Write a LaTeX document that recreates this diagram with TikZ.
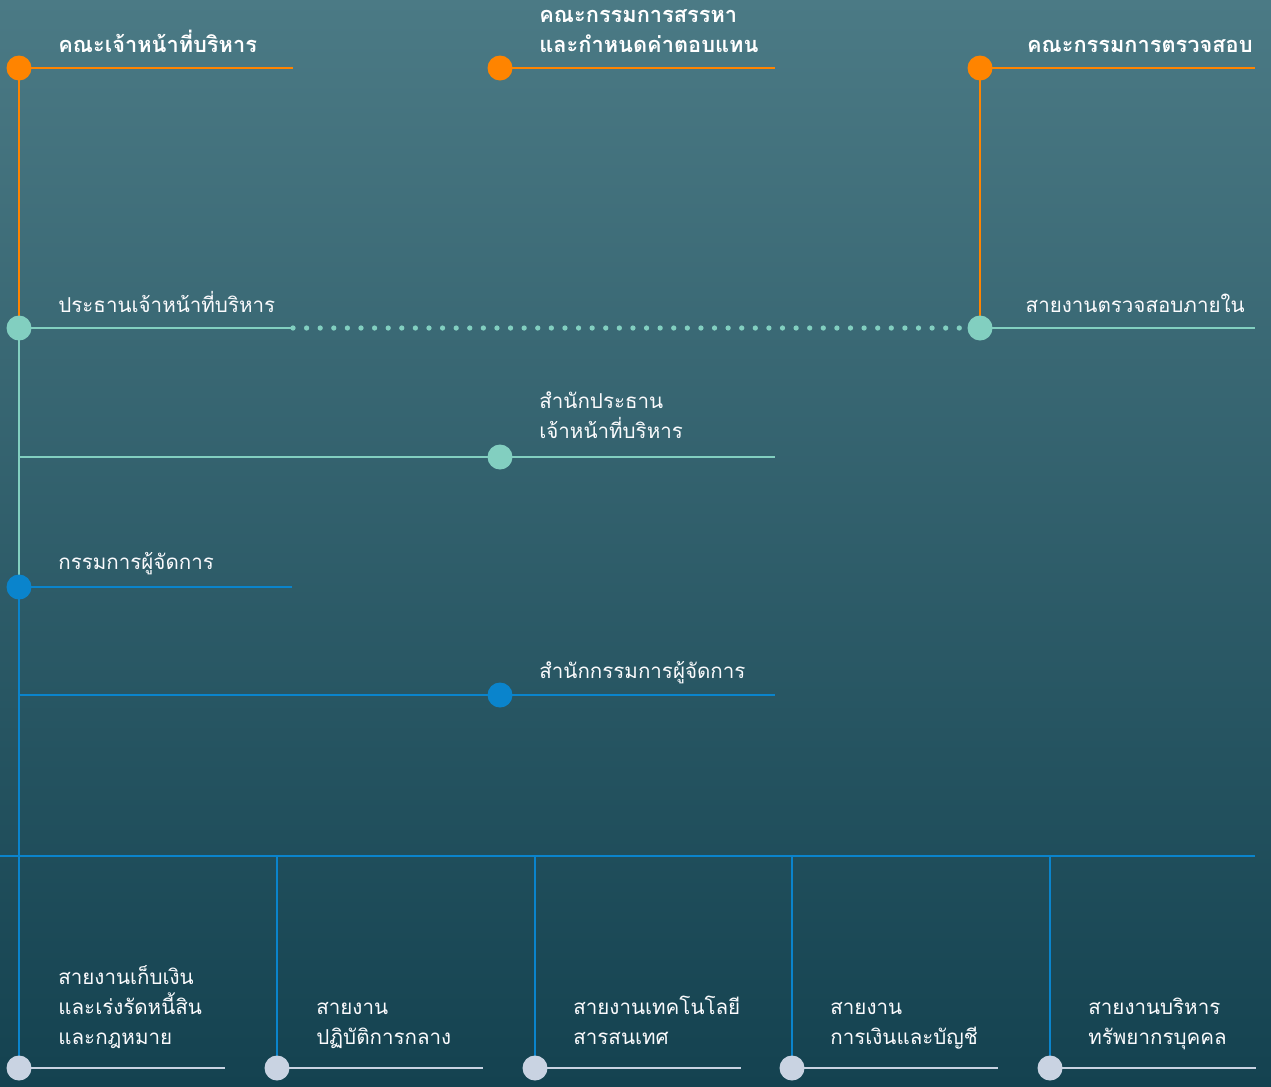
\documentclass[tikz,border=0pt]{standalone}
\usepackage{fontspec}
\setmainfont{Loma}[Script=Thai]
\usetikzlibrary{calc}
\definecolor{bgTop}{HTML}{4B7A85}
\definecolor{bgBottom}{HTML}{144250}
\definecolor{orgOrange}{HTML}{FF8400}
\definecolor{orgMint}{HTML}{82CFC0}
\definecolor{orgBlue}{HTML}{0A84CC}
\definecolor{orgGray}{HTML}{C9D3E2}
\tikzstyle{orgdot}=[circle, inner sep=0pt, minimum size=0.5cm]
\tikzstyle{orgline}=[line width=1.6pt]
\tikzstyle{title}=[anchor=base west, inner sep=0pt, text=white, font=\fontsize{12.4}{17}\selectfont\bfseries, align=left]
\tikzstyle{unit}=[anchor=base west, inner sep=0pt, text=white!92!orgGray, font=\fontsize{11.7}{17}\selectfont, align=left]

\begin{document}
\begin{tikzpicture}[x=0.02cm, y=-0.02cm]
	% Background
	\useasboundingbox (0,0) rectangle (1271,1086);
	\shade[top color=bgTop, bottom color=bgBottom] (0,0) rectangle (1271,1086);

	% Points of the chart
	\coordinate (exec) at (19,68);
	\coordinate (nomin) at (500,68);
	\coordinate (audit) at (980,68);
	\coordinate (ceo) at (19,328);
	\coordinate (intaudit) at (980,328);
	\coordinate (ceoOffice) at (500,457);
	\coordinate (md) at (19,587);
	\coordinate (mdOffice) at (500,695);
	\coordinate (busLeft) at (0,856);
	\coordinate (busRight) at (1255,856);
	\coordinate (ceoBranch) at (19,457);
	\coordinate (mdBranch) at (19,695);
	\coordinate (dotStart) at (293,328);
	\coordinate (dotEnd) at (968,328);
	\foreach \x/\n in {19/1, 277/2, 535/3, 792/4, 1050/5}{
		\coordinate (bus\n) at (\x,856);
		\coordinate (div\n) at (\x,1068);
		\coordinate (divEnd\n) at (\x+206,1068);
	}

	% Board level
	\draw[orgline, orgOrange] (exec) -- ++(274,0) coordinate (execEnd);
	\draw[orgline, orgOrange] (nomin) -- ++(275,0) coordinate (nominEnd);
	\draw[orgline, orgOrange] (audit) -- ++(275,0) coordinate (auditEnd);
	\draw[orgline, orgOrange] (exec) -- (ceo);
	\draw[orgline, orgOrange] (audit) -- (intaudit);

	% Executive level
	\draw[orgline, orgMint] (ceo) -- (dotStart);
	\draw[orgMint, line width=3pt, line cap=round, dash pattern=on 0pt off 0.272cm] (dotStart) -- (dotEnd);
	\draw[orgline, orgMint] (intaudit) -- ++(275,0) coordinate (intauditEnd);
	\draw[orgline, orgMint] (ceo) -- (md);
	\draw[orgline, orgMint] (ceoBranch) -- (ceoOffice) -- ++(275,0) coordinate (ceoOfficeEnd);
	\draw[orgline, orgBlue] (md) -- ++(273,0) coordinate (mdEnd);
	\draw[orgline, orgBlue] (md) -- (div1);
	\draw[orgline, orgBlue] (mdBranch) -- (mdOffice) -- ++(275,0) coordinate (mdOfficeEnd);

	% Divisions
	\draw[orgline, orgBlue] (busLeft) -- (busRight);
	\foreach \n in {2,...,5}{ \draw[orgline, orgBlue] (bus\n) -- (div\n); }
	\foreach \n in {1,...,5}{ \draw[orgline, orgGray] (div\n) -- (divEnd\n); }

	% Dots
	\foreach \p in {exec, nomin, audit}{ \node[orgdot, fill=orgOrange] at (\p) {}; }
	\foreach \p in {ceo, intaudit, ceoOffice}{ \node[orgdot, fill=orgMint] at (\p) {}; }
	\foreach \p in {md, mdOffice}{ \node[orgdot, fill=orgBlue] at (\p) {}; }
	\foreach \n in {1,...,5}{ \node[orgdot, fill=orgGray] at (div\n) {}; }

	% Labels (multi-line ones sit on their last line)
	\node[title] (lblExec) at (58,52) {คณะเจ้าหน้าที่บริหาร};
	\node[title] (lblNomin) at (539,52) {คณะกรรมการสรรหา\\และกำหนดค่าตอบแทน};
	\node[title, anchor=base east] (lblAudit) at (1253,52) {คณะกรรมการตรวจสอบ};
	\node[unit] (lblCeo) at (58,312) {ประธานเจ้าหน้าที่บริหาร};
	\node[unit, anchor=base east] (lblIntaudit) at (1245,312) {สายงานตรวจสอบภายใน};
	\node[unit] (lblCeoOffice) at (539,438) {สำนักประธาน\\เจ้าหน้าที่บริหาร};
	\node[unit] (lblMd) at (58,569) {กรรมการผู้จัดการ};
	\node[unit] (lblMdOffice) at (539,678) {สำนักกรรมการผู้จัดการ};
	\node[unit] (lblDiv1) at (58,1044) {สายงานเก็บเงิน\\และเร่งรัดหนี้สิน\\และกฎหมาย};
	\node[unit] (lblDiv2) at (316,1044) {สายงาน\\ปฏิบัติการกลาง};
	\node[unit] (lblDiv3) at (573,1044) {สายงานเทคโนโลยี\\สารสนเทศ};
	\node[unit] (lblDiv4) at (830,1044) {สายงาน\\การเงินและบัญชี};
	\node[unit] (lblDiv5) at (1088,1044) {สายงานบริหาร\\ทรัพยากรบุคคล};
\end{tikzpicture}
\end{document}
